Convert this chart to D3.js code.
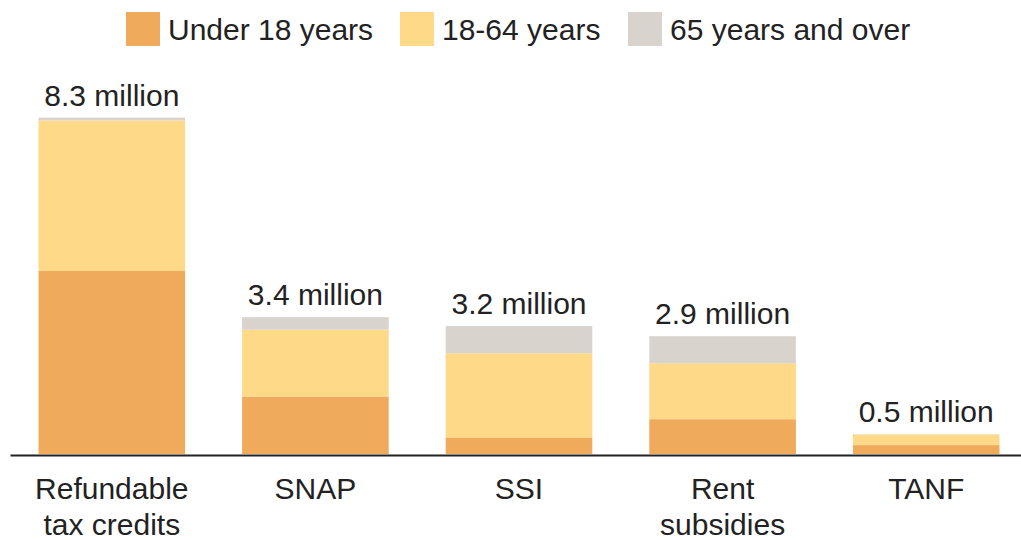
<!DOCTYPE html>
<html>
<head>
<meta charset="utf-8">
<script src="https://cdn.jsdelivr.net/npm/d3@7"></script>
<style>
  body { margin: 0; background: #fff; }
  text { font-family: "Liberation Sans", Arial, sans-serif; fill: #222; }
</style>
</head>
<body>
<div class="chart"></div>
<script>
let programs = ["Refundable tax credits", "SNAP", "SSI", "Rent subsidies", "TANF"]
let program_lines = [["Refundable", "tax credits"], ["SNAP"], ["SSI"], ["Rent", "subsidies"], ["TANF"]]
let age_groups = ["Under 18 years", "18-64 years", "65 years and over"]
// millions of people
let under_18 = [4.52, 1.42, 0.41, 0.86, 0.22]
let age_18_64 = [3.72, 1.65, 2.08, 1.38, 0.26]
let over_65 = [0.07, 0.31, 0.67, 0.67, 0.01]
let total_labels = ["8.3 million", "3.4 million", "3.2 million", "2.9 million", "0.5 million"]
let colors = ["#efab5b", "#fed987", "#d9d3cd"]

let width = 1021
let height = 540

let svg = d3.select(".chart")
    .append("svg")
        .attr("width", width)
        .attr("height", height)

let rows = programs.map((p, i) => ({
    program: p,
    "Under 18 years": under_18[i],
    "18-64 years": age_18_64[i],
    "65 years and over": over_65[i]
}))

let stacked = d3.stack().keys(age_groups)(rows)

let x = d3.scaleBand()
    .domain(programs)
    .range([10, 1028])
    .paddingInner(0.28)
    .paddingOuter(0.14)

let y = d3.scaleLinear()
    .domain([0, 8.3])
    .range([454, 118])

let color = d3.scaleOrdinal().domain(age_groups).range(colors)

svg.append("g")
    .selectAll("g")
    .data(stacked)
    .enter()
    .append("g")
        .attr("fill", d => color(d.key))
    .selectAll("rect")
    .data(d => d)
    .enter()
    .append("rect")
        .attr("x", d => x(d.data.program))
        .attr("y", d => y(d[1]))
        .attr("width", x.bandwidth())
        .attr("height", d => y(d[0]) - y(d[1]))

// totals above the bars
svg.append("g")
    .selectAll("text")
    .data(rows)
    .enter()
    .append("text")
        .attr("x", d => x(d.program) + x.bandwidth() / 2)
        .attr("y", d => y(d[age_groups[0]] + d[age_groups[1]] + d[age_groups[2]]) - 12)
        .attr("text-anchor", "middle")
        .attr("font-size", 30)
        .text((d, i) => total_labels[i])

// baseline axis
let axis = svg.append("g")
    .attr("transform", "translate(0,455)")
    .call(d3.axisBottom(x).tickSize(0).tickSizeOuter(0).tickFormat(""))

axis.select(".domain")
    .attr("stroke", "#222")
    .attr("stroke-width", 2)

axis.selectAll(".tick text").remove()
axis.selectAll(".tick")
    .append("text")
        .attr("text-anchor", "middle")
        .attr("font-size", 30)
        .attr("fill", "#222")
        .each(function(d, i) {
            let t = d3.select(this)
            program_lines[i].forEach((line, j) => {
                t.append("tspan")
                    .attr("x", 0)
                    .attr("y", 44 + j * 36)
                    .text(line)
            })
        })

// legend
let legend_x = [126, 400, 628]
let legend = svg.append("g")
    .selectAll("g")
    .data(age_groups)
    .enter()
    .append("g")
        .attr("transform", (d, i) => "translate(" + legend_x[i] + ",12)")

legend.append("rect")
    .attr("width", 34)
    .attr("height", 34)
    .attr("fill", d => color(d))

legend.append("text")
    .attr("x", 42)
    .attr("y", 28)
    .attr("font-size", 30)
    .text(d => d)
</script>
</body>
</html>
